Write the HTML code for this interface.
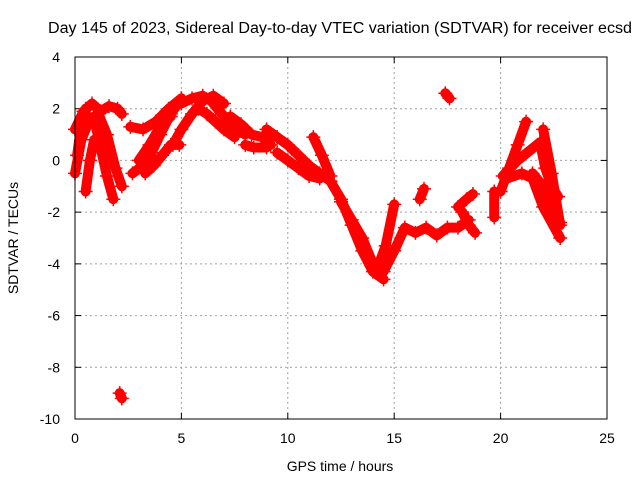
<!DOCTYPE html>
<html><head><meta charset="utf-8"><style>
body{margin:0;background:#fff}
svg{font-family:"Liberation Sans",sans-serif;font-size:14px}
</style></head><body>
<svg id="chart" width="640" height="480">
<rect width="640" height="480" fill="#fff"/>
<text x="340" y="33" text-anchor="middle" textLength="584" lengthAdjust="spacingAndGlyphs" style="font-size:15.5px">Day 145 of 2023, Sidereal Day-to-day VTEC variation (SDTVAR) for receiver ecsd</text>
<text x="340" y="471" text-anchor="middle">GPS time / hours</text>
<text transform="translate(18,238) rotate(-90)" text-anchor="middle">SDTVAR / TECUs</text>
<g id="grid"></g><g id="ticks"></g><g id="marks"></g>
<rect x="75" y="57" width="532" height="362" fill="none" stroke="#000" stroke-width="1"/>
</svg>
<script>
const xTicks=[0,5,10,15,20,25];
const yTicks=[4,2,0,-2,-4,-6,-8,-10];
const tracks=[
 {t:[0,0.3,0.7,1.1,1.5,1.9,2.2],v:[-0.5,0.8,1.6,1.8,1.0,-0.3,-1.0]},
 {t:[0,0.4,0.8,1.2,1.6,2.0,2.2],v:[1.2,1.9,2.2,1.9,2.1,2.0,1.8]},
 {t:[0.9,1.2,1.5,1.8],v:[1.6,0.5,-0.6,-1.5]},
 {t:[0.5,0.7,0.9],v:[-1.2,0.0,0.8]},
 {t:[0.1,0.3,0.5],v:[0.2,1.4,2.0]},
 {t:[2.6,3.2,3.8,4.4,5.0],v:[1.3,1.2,1.5,2.0,2.4]},
 {t:[2.7,3.2,3.6,4.0,4.5,5.0],v:[-0.5,-0.2,0.3,1.0,1.8,2.4]},
 {t:[3.3,3.7,4.1,4.5,4.9],v:[-0.5,-0.2,0.2,0.6,0.6]},
 {t:[3.0,3.5,4.0,4.5],v:[0.0,0.6,1.3,1.7]},
 {t:[4.6,5.0,5.5,6.0,6.5,7.0],v:[0.6,1.2,1.8,2.3,2.5,2.2]},
 {t:[5.0,5.5,6.0,6.4,6.9,7.5,8.0],v:[2.2,2.4,2.5,2.3,1.8,1.3,1.0]},
 {t:[5.8,6.2,6.6,7.0,7.5],v:[2.0,1.8,1.5,1.2,0.9]},
 {t:[7.3,7.8,8.3,8.8,9.2],v:[1.7,1.4,1.0,0.9,0.6]},
 {t:[8.0,8.4,9.0],v:[0.6,0.5,0.5]},
 {t:[9.0,9.5,10.0,10.5,11.0,11.5,12.0],v:[1.2,0.9,0.6,0.2,-0.2,-0.5,-0.8]},
 {t:[9.5,10,10.5,11,11.5],v:[0.3,0.0,-0.3,-0.6,-0.7]},
 {t:[11.2,11.6,12.0],v:[0.9,0.2,-0.6]},
 {t:[12,12.5,13,13.5,14,14.5],v:[-0.8,-1.5,-2.5,-3.5,-4.3,-4.6]},
 {t:[12.5,13,13.5,14],v:[-1.6,-2.3,-3.0,-4.0]},
 {t:[14.2,14.6,15.0],v:[-4.2,-3.3,-1.7]},
 {t:[14.5,15.0,15.5,16.0,16.5,17,17.5,18,18.5],v:[-4.3,-3.5,-2.6,-2.8,-2.6,-2.9,-2.6,-2.6,-2.3]},
 {t:[16.2,16.4],v:[-1.5,-1.1]},
 {t:[18.0,18.4,18.7],v:[-1.8,-1.5,-1.3]},
 {t:[18.2,18.5,18.8],v:[-2.0,-2.5,-2.8]},
 {t:[17.4,17.6],v:[2.6,2.4]},
 {t:[2.1,2.2],v:[-9.0,-9.2]},
 {t:[19.7,19.7],v:[-1.2,-2.2]},
 {t:[20.0,20.4,20.8,21.2],v:[-1.2,-0.3,0.6,1.5]},
 {t:[20.1,20.8,21.85],v:[-0.6,0,0.7]},
 {t:[21.85,22.1,22.4,22.7],v:[0.7,-0.3,-1.0,-1.4]},
 {t:[20.3,21.0,21.5,22,22.8],v:[-0.7,-0.5,-0.7,-1.8,-3.0]},
 {t:[21.5,22.0,22.5,22.8],v:[-0.5,-1.0,-2.0,-2.4]},
 {t:[22.0,22.4,22.8],v:[1.2,-0.5,-2.5]}
];
const X0=75,X1=607,Y0=419,Y1=57;
const xs=t=>X0+(t-0)/(25-0)*(X1-X0);
const ys=v=>Y0-(v+10)/(4+10)*(Y0-Y1);
const NS='http://www.w3.org/2000/svg';
const grid=document.getElementById('grid'),ticks=document.getElementById('ticks'),marks=document.getElementById('marks');
function mk(tag,attrs,parent){const e=document.createElementNS(NS,tag);for(const k in attrs)e.setAttribute(k,attrs[k]);parent.appendChild(e);return e;}
xTicks.forEach(t=>{
 const x=xs(t);
 if(t>0&&t<25){const g=mk('line',{x1:x,x2:x,y1:Y1,y2:Y0,stroke:'#a0a0a0','stroke-dasharray':'2,3'},grid);
 
 }
 mk('line',{x1:x,x2:x,y1:Y0,y2:Y0-6,stroke:'#000'},ticks);
 mk('line',{x1:x,x2:x,y1:Y1,y2:Y1+6,stroke:'#000'},ticks);
 const l=mk('text',{x:x,y:Y0+24,'text-anchor':'middle'},ticks);l.textContent=t;
 
 
});
yTicks.forEach(v=>{
 const y=ys(v);
 if(v>-10&&v<4){const g=mk('line',{x1:X0,x2:X1,y1:y,y2:y,stroke:'#a0a0a0','stroke-dasharray':'2,3'},grid);
 
 }
 mk('line',{x1:X0,x2:X0+6,y1:y,y2:y,stroke:'#000'},ticks);
 mk('line',{x1:X1,x2:X1-6,y1:y,y2:y,stroke:'#000'},ticks);
 const l=mk('text',{x:X0-15,y:y+5,'text-anchor':'end'},ticks);l.textContent=v;
 
 
});
tracks.forEach((tr,i)=>{
 const pts=tr.t.map((t,j)=>xs(t)+','+ys(tr.v[j])).join(' ');
 const p=mk('polyline',{points:pts,fill:'none',stroke:'#ff0000','stroke-width':10,'stroke-linejoin':'round','stroke-linecap':'round'},marks);
 
 
 tr.t.forEach((t,j)=>{
  const x=xs(t),y=ys(tr.v[j]);
  const m=mk('path',{d:`M${x-7},${y}h14M${x},${y-7}v14`,stroke:'#ff0000','stroke-width':1.5},marks);
  
  
 });
});
</script>
</body></html>
